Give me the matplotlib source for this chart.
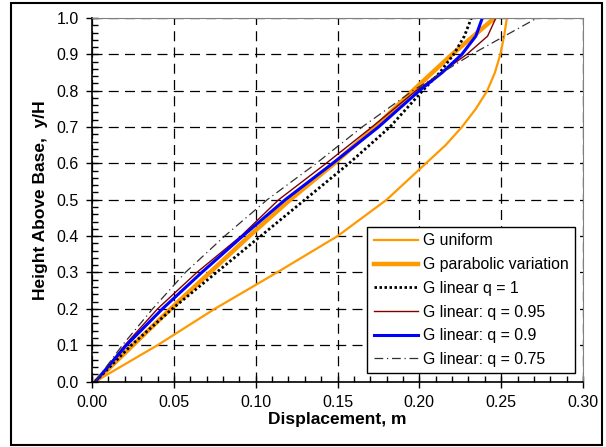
import matplotlib
matplotlib.use("Agg")
import matplotlib.pyplot as plt
from matplotlib.patches import Rectangle
from matplotlib.ticker import MultipleLocator, FormatStrFormatter

plt.rcParams['font.family'] = ['Liberation Sans', 'DejaVu Sans']

# height ratio y/H
height = [0.0, 0.1, 0.2, 0.3, 0.4, 0.5, 0.6, 0.7, 0.8, 0.9, 1.0]

# displacement (m)
g_parabolic = [0.002, 0.025, 0.048, 0.072, 0.096, 0.121, 0.148, 0.173, 0.196, 0.220, 0.246]

# curves that bend near the top were read at a finer step there
height_u = [0.0, 0.1, 0.2, 0.3, 0.4, 0.5, 0.6, 0.65, 0.7, 0.75, 0.8, 0.85, 0.9, 0.95, 1.0]
g_uniform = [0.002, 0.040, 0.075, 0.113, 0.150, 0.180, 0.204, 0.216, 0.226, 0.2345,
             0.2415, 0.2462, 0.2495, 0.2518, 0.2535]

height_top = [0.0, 0.1, 0.2, 0.3, 0.4, 0.5, 0.6, 0.7, 0.8, 0.85, 0.9, 0.95, 1.0]
g_q100 = [0.002, 0.024, 0.049, 0.076, 0.103, 0.130, 0.157, 0.182, 0.202, 0.2125, 0.221, 0.2275, 0.2318]
g_q095 = [0.002, 0.020, 0.040, 0.064, 0.091, 0.114, 0.143, 0.171, 0.198, 0.2135, 0.229, 0.2417, 0.2468]
g_q090 = [0.002, 0.021, 0.043, 0.067, 0.092, 0.118, 0.147, 0.175, 0.200, 0.214, 0.226, 0.2345, 0.2385]
g_q075 = [0.002, 0.0185, 0.037, 0.057, 0.081, 0.107, 0.137, 0.165, 0.196, 0.214, 0.232, 0.252, 0.272]

orange = '#FF9900'

fig = plt.figure(figsize=(6.06, 4.47), dpi=100)
ax = fig.add_axes([0.152, 0.1465, 0.810, 0.8133])

ax.plot(g_uniform, height_u, color=orange, lw=1.6, label='G uniform')
ax.plot(g_parabolic, height, color=orange, lw=3.2, label='G parabolic variation')
ax.plot(g_q100, height_top, color='black', lw=2.0, linestyle=(0, (0.9, 0.9)),
        label='G linear q = 1')
ax.plot(g_q095, height_top, color='#800000', lw=1.0, label='G linear: q = 0.95')
ax.plot(g_q090, height_top, color='#0000FF', lw=2.2, label='G linear: q = 0.9')
ax.plot(g_q075, height_top, color='#303030', lw=0.9, linestyle=(0, (7, 3, 1, 3)),
        label='G linear: q = 0.75')

ax.set_xlim(0, 0.30)
ax.set_ylim(0, 1.0)
ax.xaxis.set_major_locator(MultipleLocator(0.05))
ax.xaxis.set_minor_locator(MultipleLocator(0.01))
ax.yaxis.set_major_locator(MultipleLocator(0.1))
ax.yaxis.set_minor_locator(MultipleLocator(0.02))
ax.xaxis.set_major_formatter(FormatStrFormatter('%.2f'))
ax.yaxis.set_major_formatter(FormatStrFormatter('%.1f'))
ax.tick_params(which='major', direction='inout', length=9, width=1, labelsize=11.5, pad=5)
ax.tick_params(which='minor', direction='in', length=4, width=1)
ax.tick_params(top=False, right=False, which='both')

ax.grid(True, which='major', color='black', lw=0.9, linestyle=(0, (8, 5)))
for side in ['top', 'right']:
    ax.spines[side].set_color('#808080')
for side in ['left', 'bottom']:
    ax.spines[side].set_linewidth(1.2)

ax.set_xlabel('Displacement, m', fontsize=12.5, fontweight='bold', labelpad=2)
ax.set_ylabel('Height Above Base,  y/H', fontsize=12.5, fontweight='bold', labelpad=6)

leg = ax.legend(loc='lower right', bbox_to_anchor=(0.984, 0.0226), borderaxespad=0,
                fontsize=11.4, handlelength=2.8, handletextpad=0.32, labelspacing=0.55,
                borderpad=0.4, fancybox=False, framealpha=1, edgecolor='black')
leg.get_frame().set_linewidth(1.0)

fig.patches.append(Rectangle((11 / 606, 2 / 447), 591 / 606, 442 / 447,
                             transform=fig.transFigure, fill=False,
                             edgecolor='black', lw=1.5))

plt.savefig('out.png', dpi=100)
